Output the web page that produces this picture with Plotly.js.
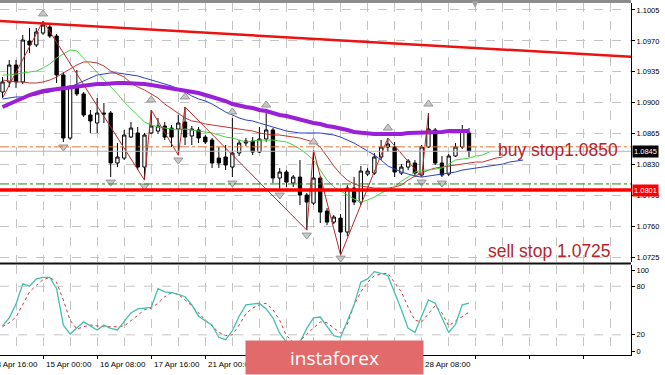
<!DOCTYPE html>
<html><head><meta charset="utf-8">
<script src="https://cdn.plot.ly/plotly-3.0.1.min.js"></script>
<style>html,body{margin:0;padding:0;background:#fff;}#chart{width:665px;height:375px;}</style>
</head><body><div id="chart"></div>
<script>
// ---- DATA (EURUSD H4, bar index 0 = 15 Apr 00:00) ----
const firstBar = -6;
const open  = [1.09121,1.09235,1.09427,1.09235,1.09699,1.09654,1.09789,1.09857,1.09755,1.09314,1.08600,1.09178,1.09099,1.08861,1.08770,1.08883,1.08883,1.08317,1.08373,1.08611,1.08657,1.08271,1.08657,1.08679,1.08736,1.08713,1.08702,1.08781,1.08623,1.08691,1.08611,1.08577,1.08373,1.08385,1.08271,1.08430,1.08566,1.08566,1.08441,1.08589,1.08691,1.08147,1.08215,1.08090,1.08158,1.07954,1.07863,1.08147,1.07773,1.07648,1.07693,1.07535,1.08033,1.07875,1.08192,1.08203,1.08385,1.08498,1.08498,1.08203,1.08271,1.08317,1.08181,1.08498,1.08691,1.08317,1.08192,1.08396,1.08498,1.08657];
const high  = [1.09291,1.09484,1.09484,1.09767,1.09846,1.09846,1.09925,1.09891,1.09778,1.09348,1.09201,1.09371,1.09121,1.08917,1.09053,1.08997,1.08906,1.08543,1.08691,1.08781,1.08725,1.08657,1.08917,1.08827,1.08781,1.08747,1.08861,1.08951,1.08736,1.08725,1.08634,1.08600,1.08498,1.08521,1.08827,1.08577,1.08600,1.08611,1.08725,1.08883,1.08713,1.08260,1.08237,1.08181,1.08351,1.07977,1.08464,1.08169,1.07807,1.07727,1.07739,1.08067,1.08158,1.08283,1.08260,1.08430,1.08577,1.08600,1.08555,1.08305,1.08362,1.08351,1.08521,1.08883,1.08713,1.08396,1.08419,1.08543,1.08747,1.08713];
const low   = [1.09053,1.09178,1.09167,1.09212,1.09563,1.09631,1.09767,1.09733,1.09223,1.08555,1.08577,1.09076,1.08838,1.08657,1.08657,1.08770,1.08158,1.08271,1.08351,1.08600,1.08237,1.08124,1.08645,1.08645,1.08577,1.08498,1.08407,1.08521,1.08521,1.08543,1.08532,1.08260,1.08260,1.08237,1.08158,1.08396,1.08509,1.08407,1.08430,1.08555,1.08090,1.08022,1.08045,1.08045,1.07841,1.07557,1.07841,1.07637,1.07614,1.07625,1.07274,1.07489,1.07841,1.07841,1.08169,1.08181,1.08351,1.08441,1.08158,1.08181,1.08237,1.08158,1.08158,1.08487,1.08294,1.08158,1.08169,1.08385,1.08475,1.08385];
const close = [1.09235,1.09427,1.09235,1.09710,1.09654,1.09801,1.09880,1.09755,1.09314,1.08600,1.09178,1.09099,1.08861,1.08793,1.08883,1.08872,1.08317,1.08385,1.08634,1.08713,1.08271,1.08634,1.08736,1.08736,1.08611,1.08611,1.08770,1.08611,1.08702,1.08600,1.08555,1.08317,1.08317,1.08294,1.08430,1.08543,1.08543,1.08441,1.08589,1.08691,1.08147,1.08215,1.08101,1.08158,1.07954,1.07875,1.08147,1.07761,1.07648,1.07705,1.07535,1.08033,1.07875,1.08226,1.08226,1.08385,1.08498,1.08532,1.08215,1.08271,1.08339,1.08203,1.08498,1.08702,1.08317,1.08181,1.08396,1.08498,1.08691,1.08453];

// moving average (purple, thick)
const maSlow = [1.08951,1.08985,1.09031,1.09065,1.09087,1.09110,1.09133,1.09144,1.09155,1.09167,1.09178,1.09189,1.09201,1.09201,1.09212,1.09212,1.09223,1.09223,1.09223,1.09223,1.09212,1.09212,1.09201,1.09189,1.09178,1.09167,1.09155,1.09144,1.09121,1.09110,1.09087,1.09065,1.09042,1.09019,1.08985,1.08963,1.08951,1.08940,1.08917,1.08906,1.08883,1.08861,1.08849,1.08827,1.08815,1.08793,1.08770,1.08759,1.08736,1.08725,1.08713,1.08691,1.08668,1.08657,1.08645,1.08645,1.08645,1.08645,1.08645,1.08645,1.08657,1.08657,1.08657,1.08668,1.08668,1.08668,1.08679,1.08679,1.08679,1.08679];
// Alligator: jaw (blue, +8 shift), teeth (red, +5), lips (green, +3)
const jaw   = [1.09042,1.09053,1.09065,1.09065,1.09076,1.09087,1.09110,1.09121,1.09144,1.09155,1.09178,1.09212,1.09246,1.09280,1.09314,1.09325,1.09337,1.09337,1.09325,1.09314,1.09303,1.09280,1.09257,1.09235,1.09212,1.09189,1.09155,1.09121,1.09076,1.09042,1.09019,1.08985,1.08940,1.08895,1.08861,1.08827,1.08804,1.08793,1.08770,1.08747,1.08725,1.08702,1.08679,1.08668,1.08657,1.08657,1.08657,1.08657,1.08645,1.08634,1.08611,1.08577,1.08543,1.08498,1.08453,1.08407,1.08351,1.08283,1.08249,1.08215,1.08192,1.08169,1.08158,1.08169,1.08181,1.08192,1.08203,1.08215,1.08237,1.08249,1.08260,1.08271,1.08283,1.08294,1.08305,1.08328,1.08339,1.08351];
const teeth = [1.09257,1.09246,1.09235,1.09235,1.09223,1.09223,1.09235,1.09257,1.09291,1.09337,1.09382,1.09427,1.09461,1.09461,1.09450,1.09416,1.09359,1.09325,1.09291,1.09223,1.09178,1.09144,1.09099,1.09053,1.08985,1.08929,1.08883,1.08827,1.08793,1.08781,1.08759,1.08747,1.08736,1.08725,1.08713,1.08702,1.08691,1.08679,1.08657,1.08645,1.08634,1.08634,1.08623,1.08611,1.08600,1.08577,1.08555,1.08498,1.08385,1.08283,1.08192,1.08124,1.08079,1.08056,1.08045,1.08033,1.08033,1.08033,1.08045,1.08067,1.08124,1.08169,1.08203,1.08237,1.08260,1.08271,1.08283,1.08294,1.08305,1.08317,1.08328,1.08328,1.08351,1.08373,1.08385];
const lips  = [1.09314,1.09314,1.09325,1.09337,1.09348,1.09359,1.09393,1.09438,1.09506,1.09552,1.09597,1.09586,1.09506,1.09427,1.09348,1.09269,1.09178,1.09099,1.09008,1.08929,1.08849,1.08781,1.08747,1.08725,1.08713,1.08702,1.08691,1.08702,1.08691,1.08679,1.08668,1.08657,1.08634,1.08611,1.08600,1.08577,1.08555,1.08566,1.08577,1.08577,1.08577,1.08566,1.08555,1.08521,1.08475,1.08419,1.08351,1.08237,1.08124,1.08045,1.07999,1.07954,1.07909,1.07875,1.07897,1.07931,1.07977,1.08011,1.08045,1.08113,1.08158,1.08215,1.08237,1.08237,1.08249,1.08260,1.08305,1.08351,1.08362,1.08373,1.08396,1.08407,1.08441];

// ZigZag swing points
const zigBar   = [-6, 0, 15, 16, 20, 21, 39, 40, 44, 51, 56, 57];
const zigPrice = [1.09053,1.09925,1.08124,1.08917,1.08407,1.08951,1.07557,1.08464,1.07274,1.08600,1.08158,1.08883];
// Fractals
const fracUpBar   = [0, 16, 21, 28, 33, 40, 51, 57];
const fracUpPrice = [1.10005,1.09031,1.09065,1.08895,1.08974,1.08555,1.08713,1.08985];
const fracDnBar   = [3, 10, 15, 20, 28, 35, 39, 44, 56, 59];
const fracDnPrice = [1.08498,1.08101,1.08056,1.08351,1.08090,1.07954,1.07501,1.07240,1.08101,1.08090];
// Trend line (two anchors)
const trendBar   = [-7, 88];
const trendPrice = [1.09928, 1.09515];
// Horizontal levels
const levelSupport = 1.0801;   // thick red
const levelGreen   = 1.0808;   // green dash-dot
const levelBuyStop = 1.0850;   // orange dash-dot
const levelBid     = 1.0845;   // current price
const sellStop     = 1.0725;
// Stochastic
const stochMain = [31,41,58,83,80,89,91,91,77,32,21,28,36,31,26,32,28,26,36,47,52,53,54,77,73,72,70,67,57,43,38,32,17,14,25,43,57,58,59,52,41,22,11,10,11,28,41,42,31,19,17,36,57,85,89,98,96,93,73,51,28,23,43,63,59,41,23,33,57,59];
const stochSignal = [30,35,42,57,73,81,88,91,85,63,38,27,30,32,31,30,30,30,31,37,44,51,53,59,67,72,70,63,56,47,38,31,23,19,20,32,46,53,57,59,51,38,19,11,12,21,28,36,35,28,22,33,57,73,85,93,95,96,85,73,54,38,36,46,56,47,31,37,42,48];
const stochLevels = [20, 80];
// Time axis (labels visible in the source; those under the watermark are not shown)
const timeLabelBar = [-8, 0, 8, 16, 24, 56];
const timeLabels   = ["13 Apr 16:00","15 Apr 00:00","16 Apr 08:00","17 Apr 16:00","21 Apr 00:00","28 Apr 08:00"];
const priceTicks = [1.0725,1.0760,1.0795,1.0830,1.0865,1.0900,1.0935,1.0970,1.1005];
const stochTicks = [0,20,80,100];

// ---- BUILD ----
const bars = (start, n) => Array.from({length:n}, (_, k) => start + k);
const X = bars(firstBar, open.length);
const xr = [-6.37, 86.96];
const yr = [1.07196, 1.10129];
const y2r = [-4.9, 106.2];
const W = 665, H = 375, PW = 631;
const px2py = p => (H - p) / H;          // pixel row -> paper y
const barToPaper = b => (b - xr[0]) / (xr[1] - xr[0]);

const lineTrace = (x, y, color, width, extra) => Object.assign({type:'scatter', mode:'lines', x, y, line:{color, width}, hoverinfo:'skip', showlegend:false, xaxis:'x', yaxis:'y'}, extra||{});

const traces = [
  {type:'candlestick', x:X, open, high, low, close, xaxis:'x', yaxis:'y', showlegend:false, hoverinfo:'skip', whiskerwidth:0,
   increasing:{line:{color:'#000', width:1}, fillcolor:'#ffffff'},
   decreasing:{line:{color:'#000', width:1}, fillcolor:'#000000'}},
  lineTrace(bars(firstBar, jaw.length), jaw, '#2b3fc8', 1),
  lineTrace(bars(firstBar, teeth.length), teeth, '#c83232', 1),
  lineTrace(bars(firstBar, lips.length), lips, '#44d444', 1),
  lineTrace(bars(firstBar, maSlow.length), maSlow, '#9a1fd6', 4),
  lineTrace(zigBar, zigPrice, '#b82828', 1),
  lineTrace(trendBar, trendPrice, '#ee1111', 2.5),
  {type:'scatter', mode:'markers', x:fracUpBar, y:fracUpPrice, marker:{symbol:'triangle-up', size:8, color:'#c8c8c8', line:{color:'#959595', width:1}}, hoverinfo:'skip', showlegend:false, xaxis:'x', yaxis:'y'},
  {type:'scatter', mode:'markers', x:fracDnBar, y:fracDnPrice, marker:{symbol:'triangle-down', size:8, color:'#c8c8c8', line:{color:'#959595', width:1}}, hoverinfo:'skip', showlegend:false, xaxis:'x', yaxis:'y'},
  {type:'scatter', mode:'lines', x:X, y:stochSignal, line:{color:'#d23a3a', width:1, dash:'dot'}, hoverinfo:'skip', showlegend:false, xaxis:'x', yaxis:'y2'},
  {type:'scatter', mode:'lines', x:X, y:stochMain, line:{color:'#43bfae', width:1.3}, hoverinfo:'skip', showlegend:false, xaxis:'x', yaxis:'y2'}
];

const hLine = (y, color, width, dash, yref) => ({type:'line', xref:'paper', x0:0, x1:1, yref:yref||'y', y0:y, y1:y, line:{color, width, dash:dash||'solid'}, layer:'above'});
const shapes = [
  hLine(levelBid, '#b4b4b4', 1),
  hLine(levelGreen, '#1f8a1f', 1, 'dashdot'),
  hLine(levelBuyStop, '#e0743a', 1, 'dashdot'),
  hLine(levelSupport, '#ff0000', 3.5),
  ...stochLevels.map(v => hLine(v, '#c4c4c4', 1, 'dash', 'y2')),
  // panel frame
  {type:'line', xref:'paper', yref:'paper', x0:0, x1:1, y0:px2py(1.5), y1:px2py(1.5), line:{color:'#8c8c8c', width:3}},
  {type:'line', xref:'paper', yref:'paper', x0:0, x1:1, y0:px2py(263.5), y1:px2py(263.5), line:{color:'#111', width:2}},
  // chart-shift marker
  {type:'path', xref:'paper', yref:'paper', path:`M ${barToPaper(63.4)} ${px2py(1)} L ${barToPaper(64.4)} ${px2py(1)} L ${barToPaper(63.9)} ${px2py(8)} Z`, fillcolor:'#a0a0a0', line:{width:0}}
];

const annotations = [];
timeLabelBar.forEach((b, k) => annotations.push({xref:'paper', yref:'paper', x:barToPaper(b), y:px2py(364), xanchor:'left', yanchor:'middle', xshift:1, text:timeLabels[k], showarrow:false, font:{family:'Liberation Sans, Arial', size:8, color:'#000'}}));
annotations.push({xref:'x', yref:'y', x:67, y:levelBid + 0.00015, xanchor:'left', yanchor:'middle', text:'buy stop1.0850', showarrow:false, font:{family:'Liberation Sans, Arial', size:17.5, color:'#b3262b'}});
annotations.push({xref:'x', yref:'y', x:65.5, y:sellStop + 0.0007, xanchor:'left', yanchor:'middle', text:'sell stop 1.0725', showarrow:false, font:{family:'Liberation Sans, Arial', size:17.5, color:'#b3262b'}});
annotations.push({xref:'paper', yref:'y', x:1, xshift:1, y:levelBid, xanchor:'left', yanchor:'middle', text:levelBid.toFixed(4), showarrow:false, bgcolor:'#000', borderpad:1, font:{family:'Liberation Sans, Arial', size:7.5, color:'#fff'}});
annotations.push({xref:'paper', yref:'y', x:1, xshift:1, y:levelSupport, xanchor:'left', yanchor:'middle', text:levelSupport.toFixed(4), showarrow:false, bgcolor:'#ff0000', borderpad:1, font:{family:'Liberation Sans, Arial', size:7.5, color:'#fff'}});
// watermark plate (drawn last, covers the labels beneath it as in the source image)
annotations.push({xref:'paper', yref:'paper', x:245/PW, y:0, xanchor:'left', yanchor:'bottom', width:177, height:33, borderpad:0, bgcolor:'#e36a6a', align:'center', valign:'middle', text:'instaforex', showarrow:false, font:{family:'Open Sans, Liberation Sans', size:19, color:'#ffffff'}});

const layout = {
  width:W, height:H, margin:{l:0, r:W-PW, t:0, b:0}, paper_bgcolor:'#fff', plot_bgcolor:'#fff', showlegend:false,
  xaxis:{range:xr, anchor:'y2', rangeslider:{visible:false}, showticklabels:false, ticks:'outside', ticklen:3, tickcolor:'#000', tick0:0, dtick:8,
    showgrid:true, gridcolor:'#c4c4c4', griddash:'dash', gridwidth:1, zeroline:false, showline:true, linecolor:'#000', linewidth:1,
    minor:{tick0:0, dtick:4, showgrid:true, gridcolor:'#c4c4c4', griddash:'dash', ticks:''}},
  yaxis:{domain:[px2py(262), px2py(3)], range:yr, side:'right', tickvals:priceTicks, ticktext:priceTicks.map(v=>v.toFixed(4)), ticks:'outside', ticklen:3, tickcolor:'#000',
    showgrid:true, gridcolor:'#c4c4c4', griddash:'dash', zeroline:false, showline:true, linecolor:'#000', linewidth:1,
    tickfont:{family:'Liberation Sans, Arial', size:7.5, color:'#000'}},
  yaxis2:{domain:[px2py(355), px2py(265)], range:y2r, side:'right', tickvals:stochTicks, ticks:'outside', ticklen:3, tickcolor:'#000',
    showgrid:false, zeroline:false, showline:true, linecolor:'#000', linewidth:1,
    tickfont:{family:'Liberation Sans, Arial', size:7.5, color:'#000'}},
  shapes, annotations
};
Plotly.newPlot('chart', traces, layout, {staticPlot:true, displayModeBar:false});
</script>
</body></html>
